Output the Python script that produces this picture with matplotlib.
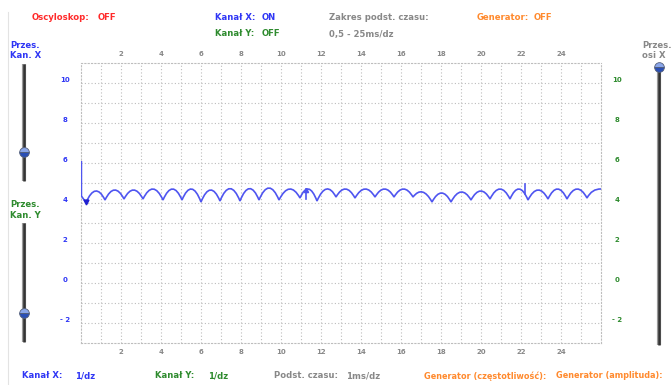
import matplotlib.pyplot as plt
from matplotlib.path import Path
from matplotlib.patches import PathPatch
from matplotlib.lines import Line2D
from matplotlib.transforms import ScaledTranslation

W, H = 672, 385

# osie
x_major = list(range(2, 25, 2))
y_major = [-2, 0, 2, 4, 6, 8, 10]
y_labels = ['- 2', '0', '2', '4', '6', '8', '10']

start_x = [0.02, 0.02]
start_y = [6.1, 4.35]
cusp_x = [0.25, 1.2, 2.15, 3.1, 4.1, 5.05, 6.0, 6.95, 7.95, 8.9, 9.9, 10.95,
          11.8, 12.75, 13.7, 14.7, 15.65, 16.6, 17.55, 18.5, 19.5, 20.45,
          21.45, 22.35, 23.35, 24.3, 25.3]
cusp_y = [4.02, 4.15, 4.2, 4.2, 4.15, 4.15, 4.05, 4.1, 4.1, 4.15, 4.15, 4.25,
          4.1, 4.3, 4.25, 4.3, 4.3, 4.3, 4.05, 4.05, 4.15, 4.2,
          4.2, 4.15, 4.2, 4.2, 4.25]
peak_y = [4.6, 4.65, 4.65, 4.7, 4.7, 4.7, 4.65, 4.72, 4.72, 4.75, 4.7, 4.7,
          4.7, 4.7, 4.7, 4.7, 4.7, 4.55, 4.5, 4.55, 4.6, 4.7,
          4.7, 4.65, 4.7, 4.7]
end_x, end_y = 26.0, 4.7
spike_x = [11.25, 22.2]
spike_lo = [4.2, 4.45]
spike_hi = [4.72, 4.95]

red = '#ff2a2a'
blue = '#2f36f5'
green = '#2e8b2e'
gray = '#888888'
orange = '#ff8a2e'
trace_c = '#4f55f0'
grid_c = '#bdbdbd'

fig = plt.figure(figsize=(W / 100, H / 100), dpi=100)
ax = fig.add_axes([81 / W, 1 - 343 / H, 520 / W, 280 / H])
ax.set_xlim(0, 26)
ax.set_ylim(-3, 11)

ax.set_xticks(x_major)
ax.set_xticks([v for v in range(1, 26) if v not in x_major], minor=True)
ax.set_yticks(y_major)
ax.set_yticklabels(y_labels)
ax.set_yticks([v for v in range(-2, 11) if v not in y_major], minor=True)
ax.grid(which='both', ls=(0, (1, 2)), color=grid_c, lw=0.8)
for s in ax.spines.values():
    s.set_linestyle((0, (1, 2)))
    s.set_color(grid_c)
    s.set_linewidth(0.8)

ax.tick_params(axis='both', which='both', length=0)
ax.tick_params(axis='x', top=True, labeltop=True, labelsize=5,
               labelcolor=gray, pad=4)
ax.tick_params(axis='y', right=True, labelright=True, labelsize=5, pad=11.5)
for lbl in ax.get_xticklabels():
    lbl.set_fontweight('bold')
up = ScaledTranslation(0, 0.04, fig.dpi_scale_trans)
for t in ax.yaxis.get_major_ticks():
    for lbl, c in ((t.label1, blue), (t.label2, green)):
        lbl.set_color(c)
        lbl.set_fontweight('bold')
        lbl.set_ha('center')
        lbl.set_transform(lbl.get_transform() + up)
for t in ax.xaxis.get_major_ticks():
    t.label2.set_fontweight('bold')
    t.label2.set_color(gray)

# przebieg
verts = list(zip(start_x, start_y)) + [(cusp_x[0], cusp_y[0])]
codes = [Path.MOVETO] + [Path.LINETO] * len(start_x)
for i in range(len(cusp_x) - 1):
    cx = (cusp_x[i] + cusp_x[i + 1]) / 2
    cy = 2 * peak_y[i] - (cusp_y[i] + cusp_y[i + 1]) / 2
    verts += [(cx, cy), (cusp_x[i + 1], cusp_y[i + 1])]
    codes += [Path.CURVE3, Path.CURVE3]
verts += [(cusp_x[-1] + 0.25, end_y + 0.02), (end_x, end_y)]
codes += [Path.CURVE3, Path.CURVE3]
ax.add_patch(PathPatch(Path(verts, codes), fill=False, edgecolor=trace_c,
                       lw=1.2, zorder=3))
ax.plot([cusp_x[0]], [cusp_y[0] + 0.05], marker='v', ms=3.5, color='#2020d0',
        zorder=4)
for x, lo, hi in zip(spike_x, spike_lo, spike_hi):
    ax.plot([x, x], [lo, hi], color=trace_c, lw=1.2, zorder=3)
ax.plot([spike_x[0]], [spike_hi[0] - 0.05], marker='^', ms=3, color=trace_c,
        zorder=4)


def ftext(x, y, s, c, size=6.1):
    fig.text(x / W, 1 - y / H, s, color=c, fontsize=size, fontweight='bold',
             ha='left', va='center')


ftext(32, 17, 'Oscyloskop:', red)
ftext(98, 17, 'OFF', red)
ftext(215, 17, 'Kanał X:', blue)
ftext(262, 17, 'ON', blue)
ftext(215, 34, 'Kanał Y:', green)
ftext(262, 34, 'OFF', green)
ftext(329, 17, 'Zakres podst. czasu:', gray)
ftext(329, 34, '0,5 - 25ms/dz', gray)
ftext(477, 17, 'Generator:', orange)
ftext(534, 17, 'OFF', orange)
ftext(10, 45, 'Przes.', blue)
ftext(10, 56, 'Kan. X', blue)
ftext(10, 205, 'Przes.', green)
ftext(10, 216, 'Kan. Y', green)
ftext(642, 45, 'Przes.', gray)
ftext(642, 56, 'osi X', gray)
ftext(22, 376, 'Kanał X:', blue)
ftext(75, 376, '1/dz', blue)
ftext(155, 376, 'Kanał Y:', green)
ftext(208, 376, '1/dz', green)
ftext(274, 376, 'Podst. czasu:', gray)
ftext(346, 376, '1ms/dz', gray)
ftext(424, 376, 'Generator (częstotliwość):', orange, 5.9)
ftext(556, 376, 'Generator (amplituda):', orange, 5.9)


def slider(x, y0, y1, yk):
    tr = fig.transFigure
    fig.add_artist(Line2D([x / W] * 2, [1 - y0 / H, 1 - y1 / H], color='#9a9a9a',
                          lw=3.0, transform=tr, solid_capstyle='butt'))
    fig.add_artist(Line2D([x / W] * 2, [1 - y0 / H, 1 - y1 / H], color='#333333',
                          lw=1.8, transform=tr, solid_capstyle='butt'))
    fig.add_artist(Line2D([x / W], [1 - yk / H], marker='o', ms=7,
                          fillstyle='top', mfc='#8aa6ea', mfcalt='#2a4fb5',
                          mec='#55607a', mew=0.6, transform=tr))


slider(24, 64, 181, 152)
slider(24, 223, 342, 313)
slider(659, 67, 345, 67)
fig.add_artist(Line2D([8 / W] * 2, [1 - 12 / H, 0], color='#e3e3e3', lw=0.8,
                      transform=fig.transFigure))

fig.savefig('out.png', dpi=100, facecolor='white')
